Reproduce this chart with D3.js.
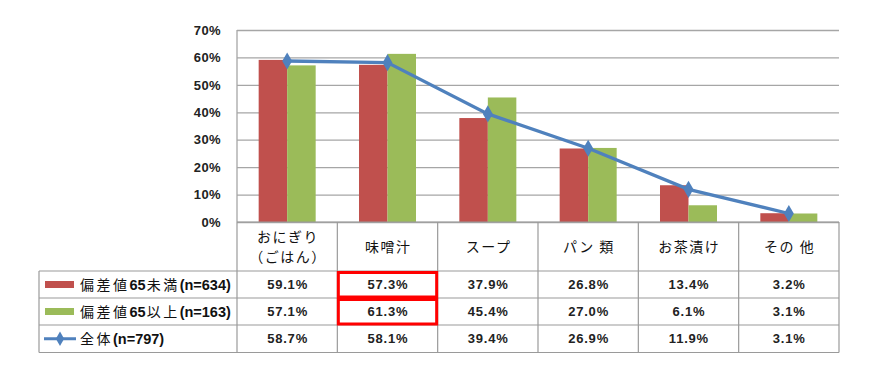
<!DOCTYPE html>
<html><head><meta charset="utf-8">
<script src="https://cdn.jsdelivr.net/npm/d3@7"></script>
<style>body{margin:0;background:#fff}svg{display:block}</style>
</head><body>
<svg id="c" width="870" height="370"></svg>
<script>
const categories = ["おにぎり\n（ごはん）", "味噌汁", "スープ", "パン 類", "お茶漬け", "その 他"];
const under65 = [59.1, 57.3, 37.9, 26.8, 13.4, 3.2];
const over65 = [57.1, 61.3, 45.4, 27.0, 6.1, 3.1];
const total = [58.7, 58.1, 39.4, 26.9, 11.9, 3.1];
const seriesNames = [["偏差値", "65", "未満", "(n=634)"], ["偏差値", "65", "以上", "(n=163)"], ["全体", "", "", "(n=797)"]];
const yTicks = [0, 10, 20, 30, 40, 50, 60, 70];

const RED = "#C0504D", GREEN = "#9BBB59", BLUE = "#4F81BD", GRID = "#A6A6A6";
const svg = d3.select("#c");
const L = 237, R = 839, T = 30, B = 222;
const tableLeft = 39;
const rowY = [222, 271, 298, 325, 352.5];
const jp = "'Noto Sans CJK JP', sans-serif";
const lat = "Arial, 'Liberation Sans', sans-serif";

const x = d3.scaleBand().domain(d3.range(categories.length)).range([L, R]).padding(0);
const x1 = d3.scaleBand().domain([0, 1]).range([0, x.bandwidth()]).paddingInner(0).paddingOuter(0.76);
const y = d3.scaleLinear().domain([0, 70]).range([B, T]);

// gridlines
const yAxis = d3.axisLeft(y).tickValues(yTicks).tickSize(-(R - L)).tickFormat(d => d + "%");
const gy = svg.append("g").attr("transform", `translate(${L},0)`).call(yAxis);
gy.select(".domain").remove();
gy.selectAll(".tick line").attr("stroke", GRID).attr("stroke-width", 1.3);
gy.selectAll(".tick text").attr("x", -16).attr("font-family", lat).attr("font-weight", "bold")
  .attr("font-size", 13).attr("letter-spacing", 0.4).attr("fill", "#222");
// left axis line
svg.append("line").attr("x1", L).attr("x2", L).attr("y1", T).attr("y2", B).attr("stroke", GRID).attr("stroke-width", 1.3);

// bars
const data = [under65, over65];
const colors = [RED, GREEN];
data.forEach((arr, s) => {
  svg.append("g").selectAll("rect").data(arr).join("rect")
    .attr("x", (d, i) => x(i) + x1(s))
    .attr("width", x1.bandwidth())
    .attr("y", d => y(d))
    .attr("height", d => y(0) - y(d))
    .attr("fill", colors[s]);
});

// line
const cx = i => x(i) + x.bandwidth() / 2;
svg.append("path").datum(total)
  .attr("d", d3.line().x((d, i) => cx(i)).y(d => y(d)))
  .attr("fill", "none").attr("stroke", BLUE).attr("stroke-width", 3.3);
svg.append("g").selectAll("path").data(total).join("path")
  .attr("d", d3.symbol(d3.symbolDiamond, 85))
  .attr("transform", (d, i) => `translate(${cx(i)},${y(d)})`)
  .attr("fill", BLUE);

// table grid
const tg = svg.append("g").attr("stroke", "#9a9a9a").attr("stroke-width", 1.2);
tg.append("line").attr("x1", L).attr("x2", R).attr("y1", B).attr("y2", B);
for (let r = 1; r < rowY.length; r++) {
  tg.append("line").attr("x1", tableLeft).attr("x2", R).attr("y1", rowY[r]).attr("y2", rowY[r]);
}
tg.append("line").attr("x1", tableLeft).attr("x2", tableLeft).attr("y1", rowY[1]).attr("y2", rowY[4]);
d3.range(categories.length + 1).forEach(i => {
  const xx = i < categories.length ? x(i) : R;
  tg.append("line").attr("x1", xx).attr("x2", xx).attr("y1", B).attr("y2", rowY[4]);
});

// header labels
categories.forEach((c, i) => {
  const lines = c.split("\n");
  const t = svg.append("text").attr("text-anchor", "middle").attr("font-family", jp)
    .attr("font-size", 14).attr("fill", "#111").attr("letter-spacing", 1.5);
  const midY = (rowY[0] + rowY[1]) / 2;
  lines.forEach((ln, k) => {
    t.append("tspan").attr("x", cx(i) + 0.75).attr("y", midY + 5 + (k - (lines.length - 1) / 2) * 20).text(ln);
  });
});

// value rows
[under65, over65, total].forEach((arr, r) => {
  const my = (rowY[r + 1] + rowY[r + 2]) / 2 + 4.7;
  svg.append("g").selectAll("text").data(arr).join("text")
    .attr("x", (d, i) => cx(i) + 0.4).attr("y", my).attr("text-anchor", "middle")
    .attr("font-family", lat).attr("font-weight", "bold").attr("font-size", 13).attr("letter-spacing", 0.8).attr("fill", "#222")
    .text(d => d.toFixed(1) + "%");
  // legend
  const ly = (rowY[r + 1] + rowY[r + 2]) / 2;
  if (r < 2) {
    svg.append("rect").attr("x", 45).attr("y", ly - 3.5).attr("width", 29).attr("height", 7).attr("fill", colors[r]);
  } else {
    svg.append("line").attr("x1", 44).attr("x2", 76).attr("y1", ly).attr("y2", ly).attr("stroke", BLUE).attr("stroke-width", 3);
    svg.append("path").attr("d", d3.symbol(d3.symbolDiamond, 60)).attr("transform", `translate(60,${ly})`).attr("fill", BLUE);
  }
  const nm = seriesNames[r];
  const t = svg.append("text").attr("x", 80).attr("y", ly + 5).attr("font-size", 14).attr("fill", "#111");
  t.append("tspan").attr("font-family", jp).attr("letter-spacing", 2.5).text(nm[0]);
  if (nm[1]) t.append("tspan").attr("font-family", lat).attr("font-weight", "bold").attr("font-size", 14.5).text(nm[1]);
  if (nm[2]) t.append("tspan").attr("font-family", jp).attr("letter-spacing", 2.5).attr("dx", 1).text(nm[2]);
  t.append("tspan").attr("font-family", lat).attr("font-weight", "bold").attr("font-size", 14.5).text(nm[3]);
});

// red highlight boxes
[0, 1].forEach(r => {
  const y0 = rowY[r + 1] + 1.5, y1 = rowY[r + 2] + 1.5;
  svg.append("rect").attr("x", x(1) + 1).attr("y", y0).attr("width", x.bandwidth() - 2).attr("height", y1 - y0 - 2.5)
    .attr("fill", "none").attr("stroke", "#FF0000").attr("stroke-width", 3);
});
</script>
</body></html>
